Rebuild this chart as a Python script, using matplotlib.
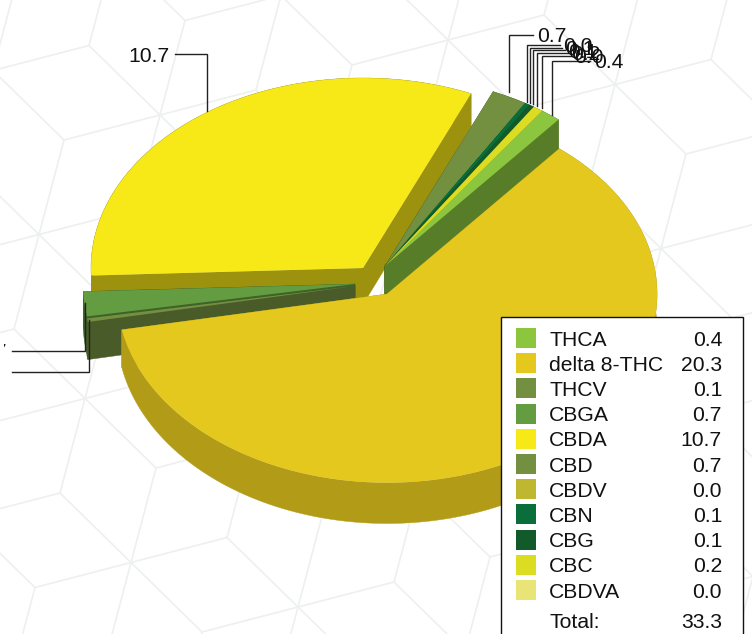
import numpy as np
import matplotlib
matplotlib.use("Agg")
import matplotlib.pyplot as plt
from matplotlib.patches import Polygon, Rectangle
from matplotlib.colors import to_rgb

# ---- data ----
categories = ["THCA", "delta 8-THC", "THCV", "CBGA", "CBDA", "CBD",
              "CBDV", "CBN", "CBG", "CBC", "CBDVA"]
values = [0.4, 20.3, 0.1, 0.7, 10.7, 0.7, 0.0, 0.1, 0.1, 0.2, 0.0]
total_label = "Total:"
total_value = 33.3

# ---- style ----
colors = ["#8CC63F", "#E4C81E", "#72903F", "#639C41", "#F7E817", "#72903F",
          "#BFB72F", "#0A6E3A", "#135A2B", "#DCDC22", "#E8E476"]
W, H = 752, 634
CX, CY, RX, RY = 385.0, 293.0, 272.0, 190.0
plt.rcParams["font.family"] = ["Liberation Sans", "DejaVu Sans"]
FS = 15.2

fig = plt.figure(figsize=(W / 100, H / 100), dpi=100)
ax = fig.add_axes([0, 0, 1, 1])


def dx(px):
    return (px - CX) / RX


def dy(py):
    return (CY - py) / RY


# pie: one data unit is RX pixels across, RY pixels down: squashed disc
wedges, _ = ax.pie(values, colors=colors, startangle=54.7, counterclock=False,
                   radius=1.0, center=(0, 0), frame=True,
                   wedgeprops=dict(linewidth=0))
ax.set_aspect("auto")
ax.set_xlim(dx(0), dx(W))
ax.set_ylim(dy(H), dy(0))
ax.set_axis_off()

# ---- background: rhombille pattern ----
b = np.array([25.0, -94.5])
c = np.array([71.0, 69.5])
a = b + c
P0 = np.array([160.0, 115.0])
for i in range(-10, 16):
    for j in range(-10, 16):
        if (i + j) % 3 == 0:
            p = P0 + i * b + j * c
            if -200 < p[0] < W + 200 and -200 < p[1] < H + 200:
                for v in (a, b, c, -a, -b, -c):
                    ax.plot([dx(p[0]), dx(p[0] + v[0])],
                            [dy(p[1]), dy(p[1] + v[1])],
                            color="#EDF0EF", lw=1.2, zorder=0,
                            solid_capstyle="round")

# ---- per-slice pixel offset, radius, shade and draw layer ----
GROUP = (0, -27)
offsets = [GROUP, (2, 1), (-30, -7), (-30, -9), (-22, -25), GROUP,
           GROUP, GROUP, GROUP, GROUP, GROUP]
scales = [1, 0.993, 1, 1, 1, 1, 1, 1, 1, 1, 1]
layers = [3, 6, 5, 4, 2, 3, 3, 3, 3, 3, 3]
shade = [0.63, 0.78, 0.63, 0.63, 0.63, 0.63, 0.63, 0.63, 0.63, 0.63, 0.63]


def wall_h(y):
    return 33 + (y - 92) * 0.02


def wall(xs, ys, color, z):
    pts = [(dx(x), dy(y)) for x, y in zip(xs, ys)]
    pts += [(dx(x), dy(y + wall_h(y))) for x, y in zip(xs[::-1], ys[::-1])]
    ax.add_patch(Polygon(pts, closed=True, facecolor=color, edgecolor=color,
                         lw=0.3, zorder=z))


for k, w in enumerate(wedges):
    ox, oy = offsets[k]
    sc = scales[k]
    w.set_center((ox / RX, -oy / RY))
    w.set_radius(sc)
    w.set_zorder(layers[k] * 10 + 8)
    if values[k] == 0:
        continue
    t = np.radians(np.linspace(w.theta1, w.theta2, 200))
    ax_x = CX + ox + sc * RX * np.cos(t)
    ax_y = CY + oy - sc * RY * np.sin(t)
    col = tuple(np.array(to_rgb(colors[k])) * shade[k])
    z = layers[k] * 10 + (5 if k == 0 else 0)
    wall(ax_x, ax_y, col, z)
    wall([CX + ox, ax_x[0]], [CY + oy, ax_y[0]], col, z)
    wall([CX + ox, ax_x[-1]], [CY + oy, ax_y[-1]], col, z)

# ---- leader lines and value labels (pixel anchors) ----
leaders = {
    "THCA": ((552, 115), 60.5, 590, 594),
    "THCV": ((88.5, 320), 372, 12, 3.5),
    "CBGA": ((84.5, 303), 351, 12, 6.5),
    "CBDA": ((207, 111), 54, 175, 170),
    "CBD": ((508.5, 92), 35, 533, 537),
    "CBDV": ((527, 102), 45, 560, 563),
    "CBN": ((530, 103), 47.5, 562, 565.5),
    "CBG": ((532.5, 104), 50, 565, 568),
    "CBC": ((537, 106), 53, 568, 571),
    "CBDVA": ((542, 108), 55.5, 571, 574),
}
for name, (tip, ly, lx, tx) in leaders.items():
    k = categories.index(name)
    ax.plot([dx(tip[0]), dx(tip[0]), dx(lx)], [dy(tip[1]), dy(ly), dy(ly)],
            color="#222222", lw=1.0, zorder=70, solid_joinstyle="miter")
    left = tx > tip[0]
    txt = ax.text(dx(tx), dy(ly), f"{values[k]:.1f}", fontsize=FS, color="#111111",
                  ha="left" if left else "right", va="center_baseline", zorder=71)
    if name in ("THCV", "CBGA"):
        # these two labels run off the left edge of the picture
        txt.set_clip_on(True)
        txt.set_clip_path(Rectangle((dx(4), dy(H)), dx(W) - dx(4), dy(0) - dy(H),
                                    transform=ax.transData))

# ---- legend box ----
ax.add_patch(Rectangle((dx(501), dy(317)), dx(743) - dx(501), dy(H + 20) - dy(317),
                       facecolor="white", edgecolor="#111111", lw=1.0, zorder=80))
for k, name in enumerate(categories):
    yc = 338 + 25.2 * k
    ax.add_patch(Rectangle((dx(516), dy(yc + 10)), dx(536) - dx(516), dy(yc - 10) - dy(yc + 10),
                           facecolor=colors[k], edgecolor="none", zorder=81))
    ax.text(dx(549), dy(yc), name, fontsize=FS, color="#111111", ha="left",
            va="center_baseline", zorder=82)
    ax.text(dx(722), dy(yc), f"{values[k]:.1f}", fontsize=FS, color="#111111",
            ha="right", va="center_baseline", zorder=82)
ax.text(dx(549), dy(620), total_label, fontsize=FS, color="#111111", ha="left",
        va="center_baseline", zorder=82)
ax.text(dx(722), dy(620), f"{total_value:.1f}", fontsize=FS, color="#111111",
        ha="right", va="center_baseline", zorder=82)

fig.savefig("out.png", dpi=100, facecolor="white")
